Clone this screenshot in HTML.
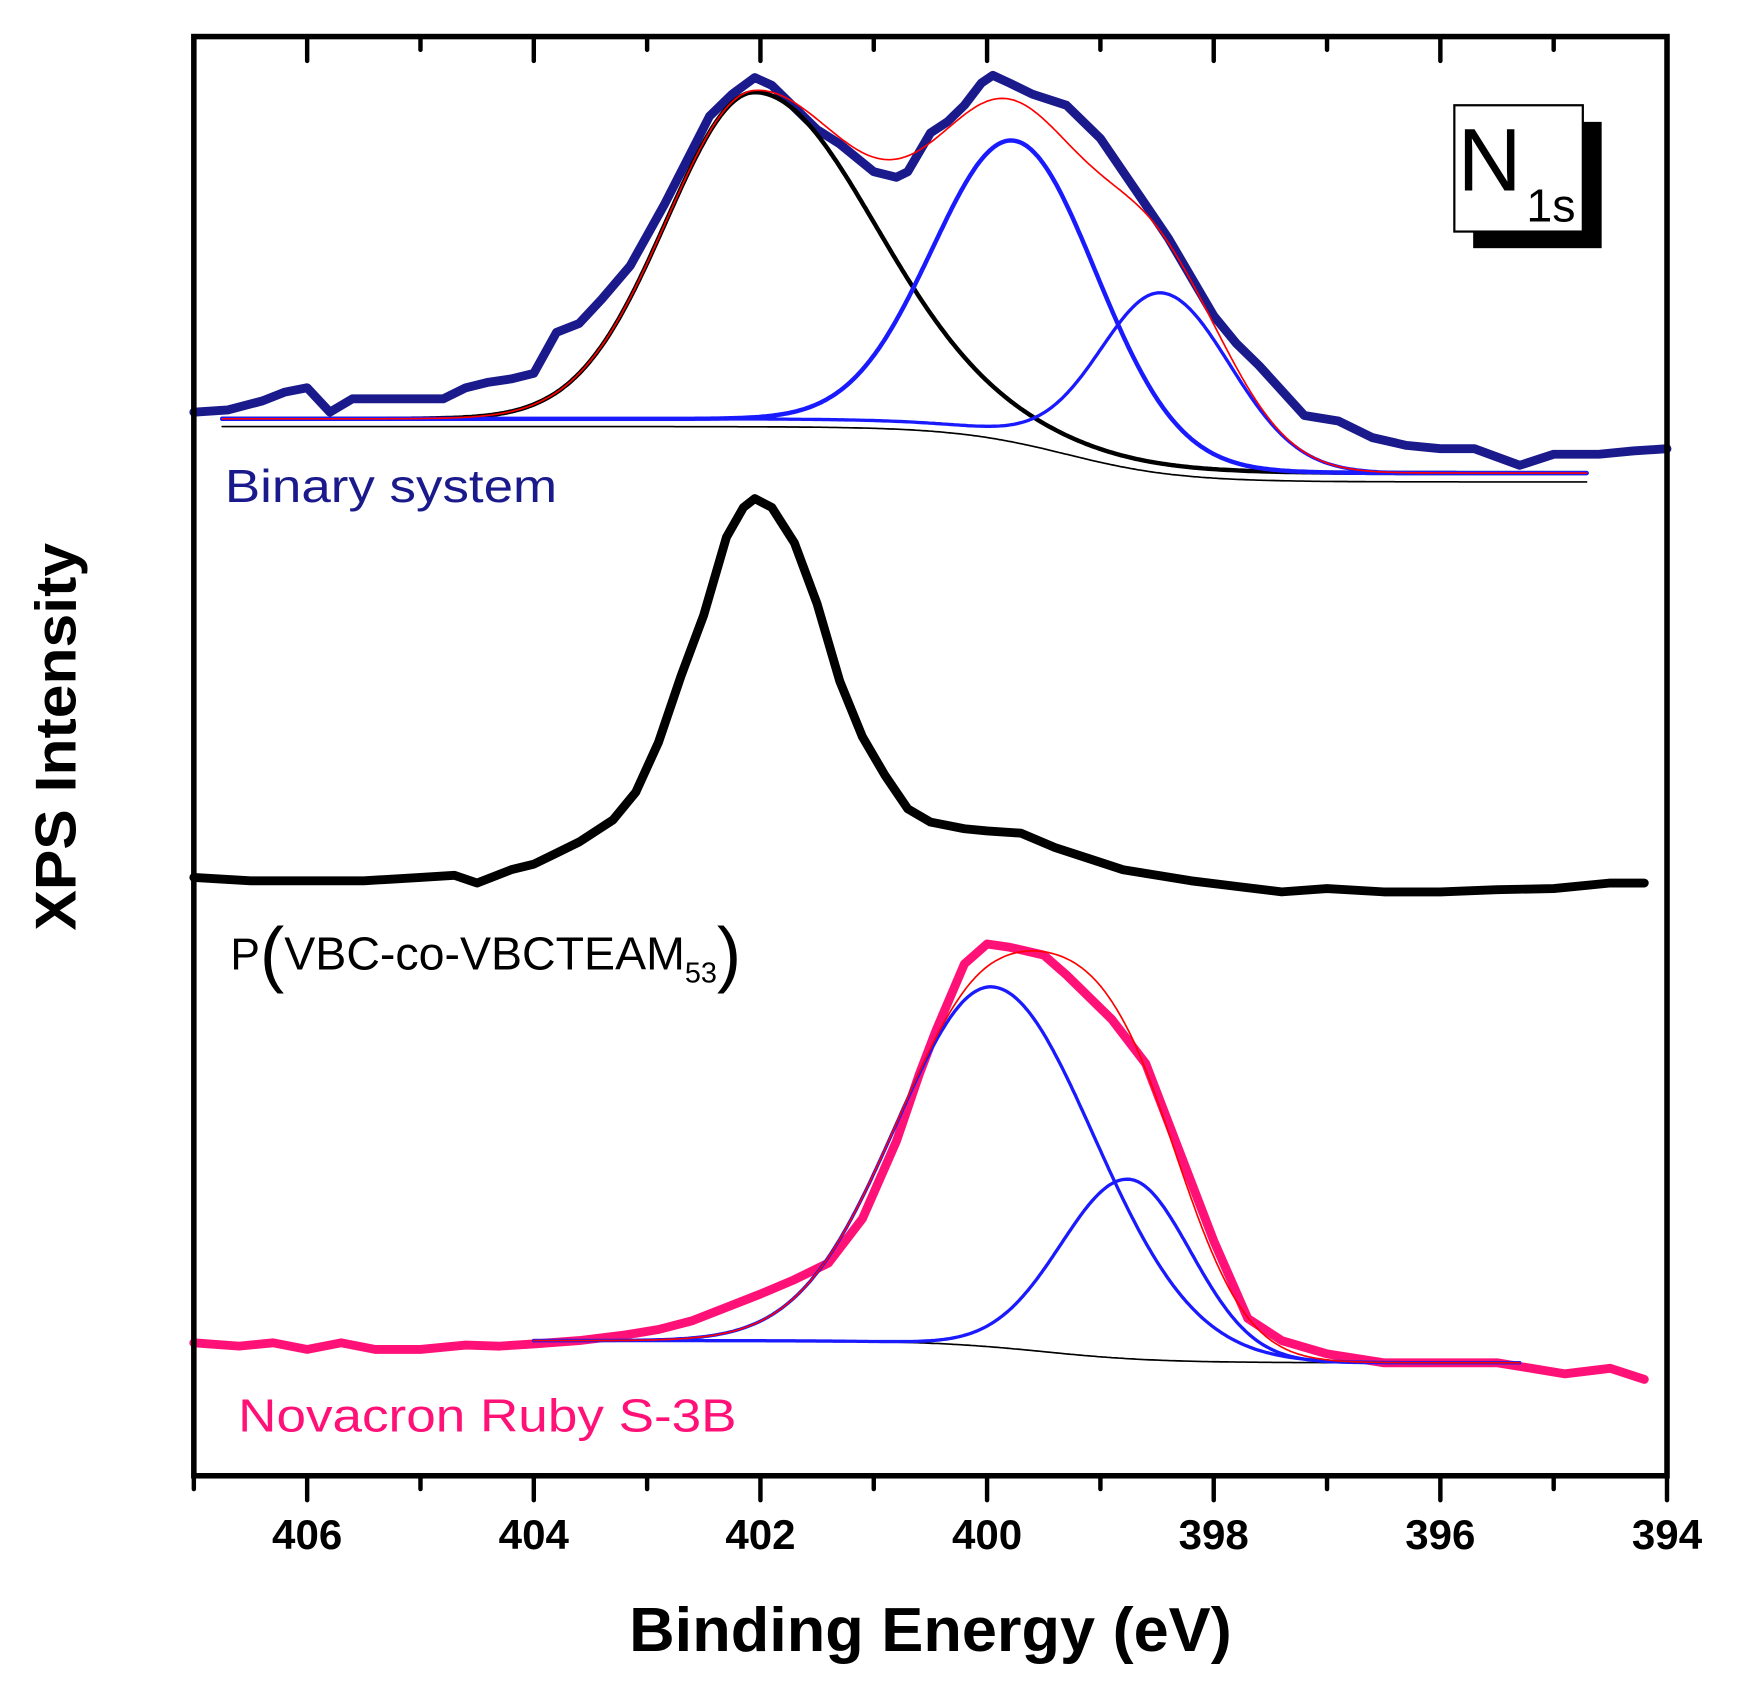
<!DOCTYPE html>
<html><head><meta charset="utf-8"><style>
html,body{margin:0;padding:0;background:#fff;}
svg{display:block;}
text{font-family:"Liberation Sans",Arial,sans-serif;}
</style></head><body>
<svg id="chart" width="1739" height="1704" viewBox="0 0 1570 1538" preserveAspectRatio="none" xmlns="http://www.w3.org/2000/svg">
<g id="plot"></g>
<rect x="175" y="33" width="1330" height="1299" fill="none" stroke="#000" stroke-width="5"/>
<g id="ticks"></g>
<text x="0" y="0" transform="translate(68,665) rotate(-90)" text-anchor="middle" font-size="52" font-weight="bold" textLength="350" lengthAdjust="spacingAndGlyphs">XPS Intensity</text>
<text x="568" y="1490" font-size="56" font-weight="bold" textLength="544" lengthAdjust="spacingAndGlyphs">Binding Energy (eV)</text>
<text x="203" y="453" font-size="42" fill="#1a1a8c" textLength="300" lengthAdjust="spacingAndGlyphs">Binary system</text>
<g>
<text x="208" y="875" font-size="40" fill="#000">P<tspan font-size="66" dy="8">(</tspan><tspan font-size="42" dy="-8">VBC-co-VBCTEAM</tspan><tspan font-size="26" dy="12">53</tspan><tspan font-size="66" dy="-4">)</tspan></text>
</g>
<text x="215" y="1292" font-size="42" fill="#ff1177" textLength="450" lengthAdjust="spacingAndGlyphs">Novacron Ruby S-3B</text>
<g>
<rect x="1330" y="110" width="116" height="114" fill="#000"/>
<rect x="1313" y="95" width="116" height="114" fill="#fff" stroke="#000" stroke-width="2"/>
<text x="1316" y="172" font-size="80">N</text>
<text x="1378" y="200" font-size="42">1s</text>
</g>
</svg>
<script>
// ---- data ----
const xTicks = [406, 404, 402, 400, 398, 396, 394];
const xMinorTicks = [407, 405, 403, 401, 399, 397, 395];

const binaryEV = [407,406.7,406.4,406.2,406,405.8,405.6,405.2,404.8,404.6,404.4,404.2,404.0,403.8,403.6,403.4,403.15,402.85,402.6,402.45,402.25,402.05,401.9,401.67,401.5,401.3,401.0,400.8,400.7,400.5,400.35,400.2,400.05,399.95,399.8,399.6,399.3,399,398.7,398.4,398,397.8,397.6,397.2,396.9,396.6,396.3,396,395.7,395.3,395.0,394.6,394.3,394];
const binaryI = [960,962,970,978,982,960,972,972,972,982,987,990,995,1032,1040,1062,1092,1147,1197,1227,1247,1262,1255,1232,1215,1202,1177,1172,1177,1212,1222,1237,1257,1264,1257,1247,1237,1207,1162,1117,1047,1022,1002,957,952,937,930,927,927,912,922,922,925,927];

const polymerEV = [407,406.5,406,405.5,405,404.7,404.5,404.2,404,403.8,403.6,403.3,403.1,402.9,402.7,402.5,402.3,402.15,402.05,401.9,401.7,401.5,401.3,401.1,400.9,400.7,400.5,400.2,400,399.7,399.4,399.1,398.8,398.5,398.2,397.8,397.4,397,396.5,396,395.5,395,394.5,394.2];
const polymerI = [540,537,537,537,540,542,535,547,552,562,572,592,617,662,722,777,847,874,882,874,842,787,717,667,632,602,590,584,582,580,567,557,547,542,537,532,527,530,527,527,529,530,535,535];

const rubyEV = [407,406.6,406.3,406,405.7,405.4,405,404.6,404.3,404,403.6,403.2,402.9,402.6,402.3,402,401.7,401.4,401.1,400.8,400.6,400.45,400.2,400,399.8,399.5,399.3,398.9,398.6,398.3,398,397.7,397.4,397,396.5,396,395.5,395.2,394.9,394.5,394.2];
const rubyI = [120,117,120,114,120,114,114,118,117,119,122,127,132,140,152,164,177,192,232,302,362,402,462,480,477,470,452,412,372,292,212,142,122,110,102,102,102,97,92,97,87];

// fit components: [center eV, height, sigma left(high BE), sigma right(low BE)]
const binaryPeakBlack = [402.05, 295, 0.78, 1.05];
const binaryPeakBlue1 = [399.75, 265, 0.72, 0.72];
const binaryPeakBlue2 = [398.45, 155, 0.55, 0.6];
const binaryBaseline = [954, 905, 399.3, 0.5];   // left, right, step centre, step width
const binaryThinBaseline = [947, 897, 399.3, 0.5];
const binaryRange = [406.75, 394.7];

const rubyPeakBlue1 = [399.95, 325, 0.85, 0.9];
const rubyPeakBlue2 = [398.75, 162, 0.6, 0.55];
const rubyBaseline = [122, 102, 399.5, 0.5];
const rubyRange = [404.0, 395.3];

// ---- axes ----
const X0 = 175, X1 = 1505, E0 = 407, E1 = 394;
function xS(ev){ return X0 + (E0 - ev) * (X1 - X0) / (E0 - E1); }
const YB = 1332;
function yS(v){ return YB - v; }

const NS = 'http://www.w3.org/2000/svg';
const plot = document.getElementById('plot');
const ticks = document.getElementById('ticks');

function base(b, ev){ return b[0] + (b[1]-b[0]) / (1 + Math.exp((ev - b[2]) / b[3])); }
function gauss(p, ev){ const s = ev >= p[0] ? p[2] : p[3]; return p[1] * Math.exp(-((ev-p[0])*(ev-p[0]))/(2*s*s)); }

function pathFrom(evs, vals){
  let d = '';
  for (let i=0;i<evs.length;i++) d += (i?'L':'M') + xS(evs[i]).toFixed(1) + ',' + yS(vals[i]).toFixed(1);
  return d;
}
function addPath(d, color, w, name){
  const p = document.createElementNS(NS,'path');
  p.setAttribute('d', d);
  p.setAttribute('fill','none');
  p.setAttribute('stroke', color);
  p.setAttribute('stroke-width', w);
  p.setAttribute('stroke-linejoin','round');
  p.setAttribute('stroke-linecap','round');
  
  
  plot.appendChild(p);
}
function model(range, fn){
  const evs=[], vals=[];
  for (let ev=range[0]; ev>=range[1]-1e-9; ev-=0.02){ evs.push(ev); vals.push(fn(ev)); }
  return pathFrom(evs, vals);
}

// binary panel
addPath(model(binaryRange, ev=>base(binaryThinBaseline,ev)), '#000', 1.5, 'binary-baseline');
addPath(pathFrom(binaryEV, binaryI), '#1a1a8c', 8, 'binary-experimental');
addPath(model(binaryRange, ev=>base(binaryBaseline,ev)+gauss(binaryPeakBlack,ev)), '#000', 4, 'binary-component-402');
addPath(model(binaryRange, ev=>base(binaryBaseline,ev)+gauss(binaryPeakBlue1,ev)), '#1a1aff', 4, 'binary-component-399-8');
addPath(model(binaryRange, ev=>base(binaryBaseline,ev)+gauss(binaryPeakBlue2,ev)), '#1a1aff', 3, 'binary-component-398-5');
addPath(model(binaryRange, ev=>base(binaryBaseline,ev)+gauss(binaryPeakBlack,ev)+gauss(binaryPeakBlue1,ev)+gauss(binaryPeakBlue2,ev)), '#ff0000', 1.5, 'binary-envelope');

// polymer panel
addPath(pathFrom(polymerEV, polymerI), '#000', 8, 'polymer-experimental');

// ruby panel
addPath(model(rubyRange, ev=>base(rubyBaseline,ev)), '#000', 1.5, 'ruby-baseline');
addPath(pathFrom(rubyEV, rubyI), '#ff1177', 8, 'ruby-experimental');
addPath(model(rubyRange, ev=>base(rubyBaseline,ev)+gauss(rubyPeakBlue1,ev)), '#1a1aff', 3, 'ruby-component-400');
addPath(model(rubyRange, ev=>base(rubyBaseline,ev)+gauss(rubyPeakBlue2,ev)), '#1a1aff', 3, 'ruby-component-398-8');
addPath(model(rubyRange, ev=>base(rubyBaseline,ev)+gauss(rubyPeakBlue1,ev)+gauss(rubyPeakBlue2,ev)), '#ff0000', 1.5, 'ruby-envelope');

// ticks
function tick(ev, len, top){
  const l = document.createElementNS(NS,'line');
  const x = xS(ev);
  l.setAttribute('x1', x); l.setAttribute('x2', x);
  if (top){ l.setAttribute('y1', 33); l.setAttribute('y2', 33+len); }
  else { l.setAttribute('y1', 1332); l.setAttribute('y2', 1332+len); }
  l.setAttribute('stroke','#000');
  l.setAttribute('stroke-width', 4);
  l.setAttribute('stroke-linecap','round');
  
  
  ticks.appendChild(l);
}
xTicks.forEach(v=>{
  tick(v, 22, false); tick(v, 22, true);
  const t = document.createElementNS(NS,'text');
  t.setAttribute('x', xS(v)); t.setAttribute('y', 1398);
  t.setAttribute('text-anchor','middle');
  t.setAttribute('font-size','38');
  t.setAttribute('font-weight','bold');
  
  
  t.textContent = v;
  ticks.appendChild(t);
});
xMinorTicks.forEach(v=>{ tick(v, 12, false); tick(v, 12, true); });
</script>
</body></html>
